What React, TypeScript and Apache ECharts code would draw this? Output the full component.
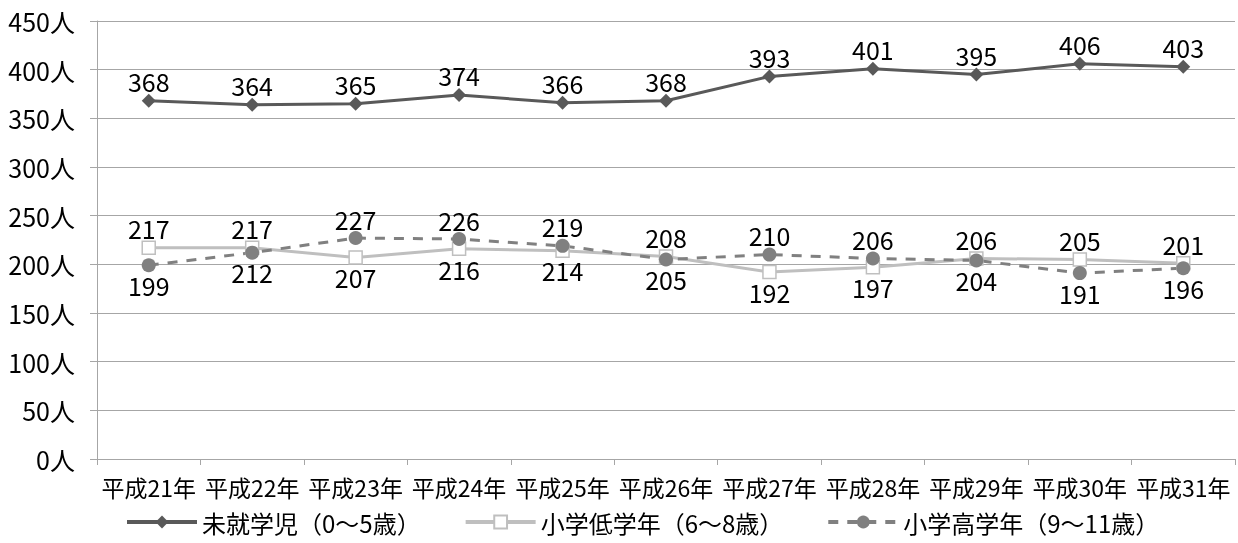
import React, { useEffect, useRef } from "react";
import * as echarts from "echarts";

const categories = ["平成21年", "平成22年", "平成23年", "平成24年", "平成25年", "平成26年", "平成27年", "平成28年", "平成29年", "平成30年", "平成31年"];
const preschool = [368, 364, 365, 374, 366, 368, 393, 401, 395, 406, 403];
const lowerGrade = [217, 217, 207, 216, 214, 208, 192, 197, 206, 205, 201];
const upperGrade = [199, 212, 227, 226, 219, 205, 210, 206, 204, 191, 196];
const seriesNames = ["未就学児（0～5歳）", "小学低学年（6～8歳）", "小学高学年（9～11歳）"];

const FONT = "'Noto Sans CJK JP', sans-serif";

export default function App() {
  const ref = useRef<HTMLDivElement>(null);
  useEffect(() => {
    document.body.style.margin = "0";
    const chart = echarts.init(ref.current!, undefined, { renderer: "svg" });
    const labelBase = { show: true, color: "#000", fontSize: 25, fontFamily: FONT, distance: 0 };
    const lowData = lowerGrade.map((v, i) => ({
      value: v,
      label: { position: v >= upperGrade[i] ? "top" : "bottom" },
    }));
    const highData = upperGrade.map((v, i) => ({
      value: v,
      label: { position: v > lowerGrade[i] ? "top" : "bottom" },
    }));
    chart.setOption({
      animation: false,
      grid: { left: 97, right: 3, top: 21, bottom: 84, containLabel: false },
      xAxis: {
        type: "category",
        data: categories,
        boundaryGap: true,
        axisLine: { lineStyle: { color: "#A6A6A6", width: 1 } },
        axisTick: { show: true, length: 6, alignWithLabel: false, lineStyle: { color: "#A6A6A6" } },
        axisLabel: { color: "#000", fontSize: 23, fontFamily: FONT, margin: 16, interval: 0 },
      },
      yAxis: {
        type: "value",
        min: 0,
        max: 450,
        interval: 50,
        axisLine: { show: true, lineStyle: { color: "#A6A6A6", width: 1 } },
        axisTick: { show: true, length: 7, lineStyle: { color: "#A6A6A6" } },
        splitLine: { lineStyle: { color: "#A6A6A6", width: 1 } },
        axisLabel: { color: "#000", fontSize: 25, fontFamily: FONT, margin: 22, formatter: "{value}人" },
      },
      legend: {
        bottom: 4,
        left: 120,
        itemWidth: 70,
        itemHeight: 16,
        itemGap: 43,
        lineStyle: { width: 4 },
        textStyle: { color: "#000", fontSize: 24, fontFamily: FONT },
        data: seriesNames,
      },
      series: [
        {
          name: seriesNames[0],
          type: "line",
          data: preschool,
          symbol: "diamond",
          symbolSize: 14,
          lineStyle: { color: "#595959", width: 3 },
          itemStyle: { color: "#595959" },
          label: { ...labelBase, position: "top" },
        },
        {
          name: seriesNames[1],
          type: "line",
          data: lowData,
          symbol: "rect",
          symbolSize: 13,
          lineStyle: { color: "#BFBFBF", width: 3 },
          itemStyle: { color: "#FFFFFF", borderColor: "#BFBFBF", borderWidth: 1.5 },
          label: { ...labelBase },
        },
        {
          name: seriesNames[2],
          type: "line",
          data: highData,
          symbol: "circle",
          symbolSize: 14,
          lineStyle: { color: "#808080", width: 3, type: [10, 9] },
          itemStyle: { color: "#808080" },
          label: { ...labelBase },
        },
      ],
    });
    return () => chart.dispose();
  }, []);
  return <div ref={ref} style={{ position: "fixed", left: 0, top: 0, width: 1238, height: 543 }} />;
}
